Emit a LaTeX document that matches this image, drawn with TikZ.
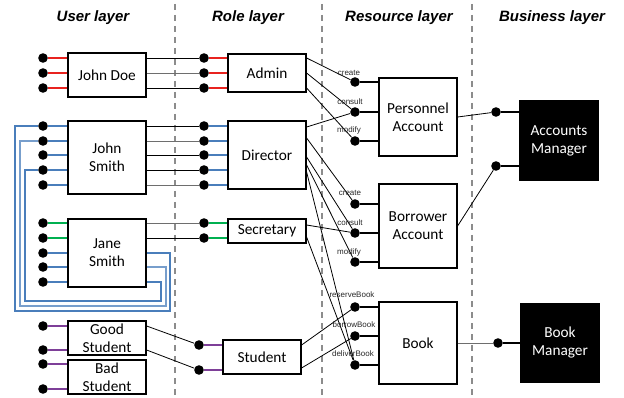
\documentclass[tikz,border=0pt]{standalone}
\usepackage{fontspec}
\setmainfont{Carlito}
\newfontfamily\headfont{Liberation Sans}
\usetikzlibrary{calc}
\definecolor{pred}{HTML}{E8231F}
\definecolor{pblue}{HTML}{4A7EBB}
\definecolor{pgreen}{HTML}{00B050}
\definecolor{ppurple}{HTML}{7E3F98}
\definecolor{dashgray}{HTML}{8C8C8C}
\definecolor{wiregray}{HTML}{6E6E6E}
\tikzset{
  box/.style={draw=black, line width=1.2pt, fill=white, minimum width=78pt, align=center, font=\fontsize{15.3}{18}\selectfont, inner sep=0pt},
  darkbox/.style={box, fill=black, text=white},
  dot/.style={circle, fill=black, inner sep=0pt, minimum size=9.6pt},
  port/.style={line width=2pt},
  wire/.style={line width=0.8pt, black},
  gwire/.style={line width=0.8pt, wiregray},
  lbl/.style={font=\headfont\fontsize{8}{9}\selectfont, text=black!85, inner sep=0pt},
  head/.style={font=\headfont\bfseries\itshape\fontsize{15}{17}\selectfont},
  sepline/.style={dashgray, line width=1.3pt, dash pattern=on 6pt off 5pt},
  loopline/.style={pblue, line width=1.1pt},
}
\begin{document}
\begin{tikzpicture}[x=1pt,y=-1pt]
\useasboundingbox (0,0) rectangle (624,398);
% headings
\node[head] (hu) at (93,18) {User layer};
\node[head] (hr) at (248,18) {Role layer};
\node[head] (hs) at (399,18) {Resource layer};
\node[head] (hb) at (552,18) {Business layer};
% separators
\coordinate (s1t) at (175,4); \coordinate (s1b) at (175,398);
\coordinate (s2t) at (322,4); \coordinate (s2b) at (322,398);
\coordinate (s3t) at (472,4); \coordinate (s3b) at (472,398);
\draw[sepline] (s1t) -- (s1b);
\draw[sepline] (s2t) -- (s2b);
\draw[sepline] (s3t) -- (s3b);
% user boxes
\node[box, minimum height=44pt] (johndoe) at (107,75) {John Doe};
\node[box, minimum height=73pt] (johnsmith) at (107,157.5) {John\\Smith};
\node[box, minimum height=68pt] (janesmith) at (107,253) {Jane\\Smith};
\node[box, minimum height=34pt] (good) at (107,338) {Good\\Student};
\node[box, minimum height=34pt] (bad) at (107,377) {Bad\\Student};
% role boxes
\node[box, minimum height=38pt] (admin) at (267,73) {Admin};
\node[box, minimum height=68pt] (director) at (267,155) {Director};
\node[box, minimum height=24pt] (secretary) at (267,231) {Secretary};
\node[box, minimum height=34pt] (student) at (262,357) {Student};
% resource boxes
\node[box, minimum height=78pt] (personnel) at (418,117) {Personnel\\Account};
\node[box, minimum height=84pt] (borrower) at (418,226) {Borrower\\Account};
\node[box, minimum height=82pt] (book) at (418,343) {Book};
% business boxes
\node[darkbox, minimum height=79pt] (accmgr) at (559,140.5) {Accounts\\Manager};
\node[darkbox, minimum height=78pt] (bookmgr) at (560,343) {Book\\Manager};
% user dots
\foreach \n/\y in {ud1/58, ud2/73, ud3/88,
  us1/126, us2/141, us3/155, us4/170, us5/185,
  uj1/223, uj2/238, uj3/253, uj4/267, uj5/282,
  ug1/326, ug2/350, ub1/364, ub2/389}
  \node[dot] (\n) at (43,\y) {};
% role dots
\foreach \n/\y in {ad1/58, ad2/73, ad3/88,
  dr1/126, dr2/141, dr3/155, dr4/170, dr5/185,
  se1/223, se2/238}
  \node[dot] (\n) at (204,\y) {};
\node[dot] (st1) at (199,345) {};
\node[dot] (st2) at (199,370) {};
% resource dots
\foreach \n/\y in {pc1/82, pc2/112, pc3/141, bc1/204, bc2/233, bc3/262, bk1/307, bk2/336, bk3/365}
  \node[dot] (\n) at (355,\y) {};
% business dots
\node[dot] (am1) at (496,112) {};
\node[dot] (am2) at (496,166) {};
\node[dot] (bm1) at (498,343) {};
% user port lines
\foreach \n in {ud1,ud2,ud3} \draw[port, pred] (\n) -- (johndoe.west |- \n);
\foreach \n in {us1,us2,us3,us4,us5} \draw[port, pblue] (\n) -- (johnsmith.west |- \n);
\foreach \n in {uj1,uj2} \draw[port, pgreen] (\n) -- (janesmith.west |- \n);
\foreach \n in {uj3,uj4,uj5} \draw[port, pblue] (\n) -- (janesmith.west |- \n);
\foreach \n in {ug1,ug2} \draw[port, ppurple] (\n) -- (good.west |- \n);
\foreach \n in {ub1,ub2} \draw[port, ppurple] (\n) -- (bad.west |- \n);
% role port lines
\foreach \n in {ad1,ad2,ad3} \draw[port, pred] (\n) -- (admin.west |- \n);
\foreach \n in {dr1,dr2,dr3,dr4,dr5} \draw[port, pblue] (\n) -- (director.west |- \n);
\foreach \n in {se1,se2} \draw[port, pgreen] (\n) -- (secretary.west |- \n);
\foreach \n in {st1,st2} \draw[port, ppurple] (\n) -- (student.west |- \n);
% resource port lines
\foreach \n in {pc1,pc2,pc3} \draw[port] (\n) -- (personnel.west |- \n);
\foreach \n in {bc1,bc2,bc3} \draw[port] (\n) -- (borrower.west |- \n);
\foreach \n in {bk1,bk2,bk3} \draw[port] (\n) -- (book.west |- \n);
% business port lines
\draw[port] (am1) -- (accmgr.west |- am1);
\draw[port] (am2) -- (accmgr.west |- am2);
\draw[port] (bm1) -- (bookmgr.west |- bm1);
% user -> role wires
\draw[wire] (johndoe.east |- ad1) -- (ad1);
\draw[gwire] (johndoe.east |- ad2) -- (ad2);
\draw[wire] (johndoe.east |- ad3) -- (ad3);
\draw[wire] (johnsmith.east |- dr1) -- (dr1);
\draw[gwire] (johnsmith.east |- dr2) -- (dr2);
\draw[wire] (johnsmith.east |- dr3) -- (dr3);
\draw[wire] (johnsmith.east |- dr4) -- (dr4);
\draw[gwire] (johnsmith.east |- dr5) -- (dr5);
\draw[gwire] (janesmith.east |- se1) -- (se1);
\draw[wire] (janesmith.east |- se2) -- (se2);
\draw[wire] (good.east |- ug1) -- (st1);
\draw[wire] (good.east |- ug2) -- (st2);
% loops from John Smith to Jane Smith
\draw[loopline] (us1) -- (15,126) -- (15,311) -- (170,311) -- (170,253) -- (janesmith.east |- uj3);
\draw[loopline, pblue!75] (us2) -- (20,141) -- (20,306) -- (166,306) -- (166,267) -- (janesmith.east |- uj4);
\draw[loopline] (us4) -- (25,170) -- (25,301) -- (161,301) -- (161,282) -- (janesmith.east |- uj5);
% role -> resource wires
\draw[wire] (admin.east |- ad1) -- (pc1);
\draw[wire] (admin.east |- ad2) -- (pc2);
\draw[wire] (admin.east |- ad3) -- (pc3);
\draw[wire] ([yshift=28pt]director.east) -- (pc2);
\draw[wire] ([yshift=17pt]director.east) -- (bc1);
\draw[wire] ([yshift=-2pt]director.east) -- (bc2);
\draw[wire] ([yshift=-10pt]director.east) -- (bc3);
\draw[wire] ([yshift=-17pt]director.east) -- (bk3);
\draw[wire] ([yshift=6pt]secretary.east) -- (bc2);
\draw[wire] ([yshift=-6pt]secretary.east) -- (bk3);
\draw[wire] ([yshift=12pt]student.east) -- (bk1);
\draw[wire] ([yshift=-11pt]student.east) -- (bk2);
% resource -> business wires
\draw[wire] (personnel.east) -- (am1);
\draw[wire] (borrower.east) -- (am2);
\draw[gwire] (book.east) -- (bm1);
% operation labels
\node[lbl] (l1) at ([xshift=-6pt,yshift=9pt]pc1) {create};
\node[lbl] (l2) at ([xshift=-5pt,yshift=10pt]pc2) {consult};
\node[lbl] (l3) at ([xshift=-6pt,yshift=11pt]pc3) {modify};
\node[lbl] (l4) at ([xshift=-5pt,yshift=11pt]bc1) {create};
\node[lbl] (l5) at ([xshift=-5pt,yshift=10pt]bc2) {consult};
\node[lbl] (l6) at ([xshift=-6pt,yshift=10pt]bc3) {modify};
\node[lbl] (l7) at ([xshift=-3pt,yshift=12pt]bk1) {reserveBook};
\node[lbl] (l8) at ([xshift=-1pt,yshift=11pt]bk2) {borrowBook};
\node[lbl] (l9) at ([xshift=-2pt,yshift=11pt]bk3) {deliverBook};
\end{tikzpicture}
\end{document}
